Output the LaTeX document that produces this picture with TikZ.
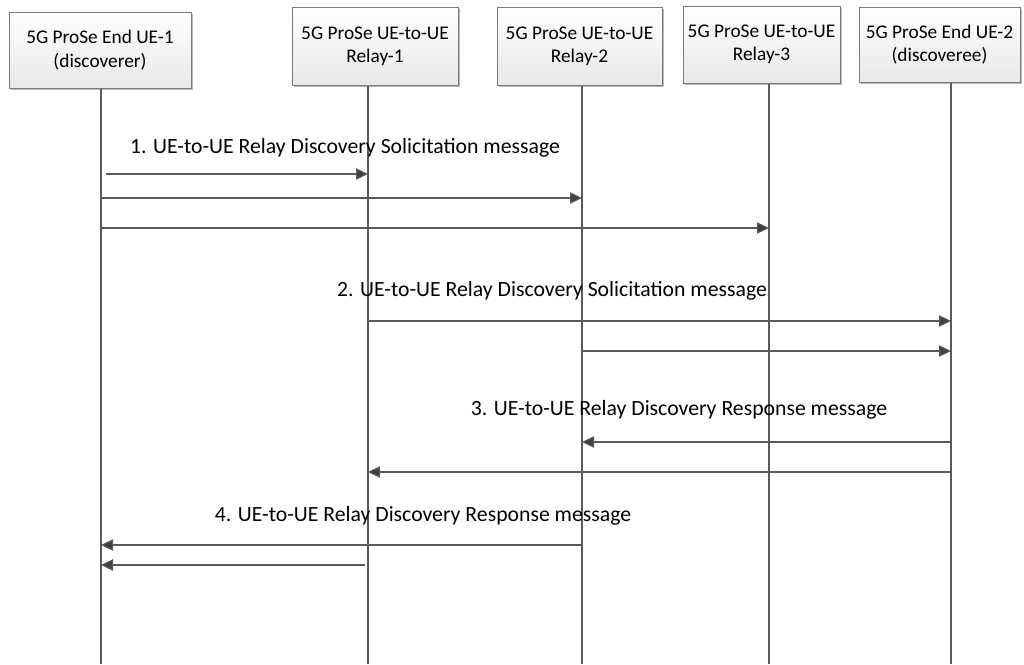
\documentclass[tikz,border=0pt]{standalone}
\usepackage{fontspec}
\setmainfont{Carlito}
\usetikzlibrary{arrows.meta,shadows}
\definecolor{linegray}{HTML}{5A5A5A}
\definecolor{tipgray}{HTML}{404040}
\definecolor{boxborder}{HTML}{7A7A7A}
\tikzset{
  hdr/.style={draw=boxborder, line width=0.75pt, top color=white, bottom color=gray!18,
    drop shadow={shadow xshift=1.6pt, shadow yshift=-1.6pt, fill=gray!55, opacity=1},
    align=center, inner sep=0pt, font=\fontsize{14.5}{17.5}\selectfont},
  life/.style={draw=linegray, line width=0.8pt},
  msg/.style={draw=linegray, line width=0.8pt, -{Triangle[length=9pt,width=8.5pt,fill=tipgray]}},
  lbl/.style={anchor=base, inner sep=0pt, font=\fontsize{16.3}{19}\selectfont}
}
\begin{document}
\begin{tikzpicture}[x=0.75pt,y=-0.75pt]
\fill[white] (0,0) rectangle (1024,664);
\useasboundingbox (0,0) rectangle (1024,664);
% header boxes
\node[hdr, minimum width=136.5pt, minimum height=57pt] (h1) at (100,50) {5G ProSe End UE-1\\(discoverer)};
\node[hdr, minimum width=124.5pt, minimum height=58.5pt] (h2) at (375,46) {5G ProSe UE-to-UE\\Relay-1};
\node[hdr, minimum width=123.75pt, minimum height=58.5pt] (h3) at (579.5,46) {5G ProSe UE-to-UE\\Relay-2};
\node[hdr, minimum width=117.75pt, minimum height=57.75pt] (h4) at (761.5,44.5) {5G ProSe UE-to-UE\\Relay-3};
\node[hdr, minimum width=120.75pt, minimum height=56.25pt] (h5) at (939.5,44.5) {5G ProSe End UE-2\\(discoveree)};
% lifeline ends
\coordinate (L1) at (101,664);
\coordinate (L2) at (368,664);
\coordinate (L3) at (582,664);
\coordinate (L4) at (769,664);
\coordinate (L5) at (951,664);
\draw[life] (h1.south -| L1) -- (L1);
\draw[life] (h2.south -| L2) -- (L2);
\draw[life] (h3.south -| L3) -- (L3);
\draw[life] (h4.south -| L4) -- (L4);
\draw[life] (h5.south -| L5) -- (L5);
% labels
\node[lbl] (t1) at (345,153) {1. UE-to-UE Relay Discovery Solicitation message};
\node[lbl] (t2) at (552,296) {2. UE-to-UE Relay Discovery Solicitation message};
\node[lbl] (t3) at (679,415) {3. UE-to-UE Relay Discovery Response message};
\node[lbl] (t4) at (423,521) {4. UE-to-UE Relay Discovery Response message};
% message endpoints
\coordinate (a1s) at (106,174); \coordinate (a1e) at (368,174);
\coordinate (a2s) at (101,198); \coordinate (a2e) at (582,198);
\coordinate (a3s) at (101,228); \coordinate (a3e) at (769,228);
\coordinate (b1s) at (368,321); \coordinate (b1e) at (951,321);
\coordinate (b2s) at (582,351); \coordinate (b2e) at (951,351);
\coordinate (c1s) at (951,442); \coordinate (c1e) at (582,442);
\coordinate (c2s) at (951,472); \coordinate (c2e) at (368,472);
\coordinate (d1s) at (582,545); \coordinate (d1e) at (101,545);
\coordinate (d2s) at (365,565); \coordinate (d2e) at (101,565);
\draw[msg] (a1s) -- (a1e);
\draw[msg] (a2s) -- (a2e);
\draw[msg] (a3s) -- (a3e);
\draw[msg] (b1s) -- (b1e);
\draw[msg] (b2s) -- (b2e);
\draw[msg] (c1s) -- (c1e);
\draw[msg] (c2s) -- (c2e);
\draw[msg] (d1s) -- (d1e);
\draw[msg] (d2s) -- (d2e);
\end{tikzpicture}
\end{document}
